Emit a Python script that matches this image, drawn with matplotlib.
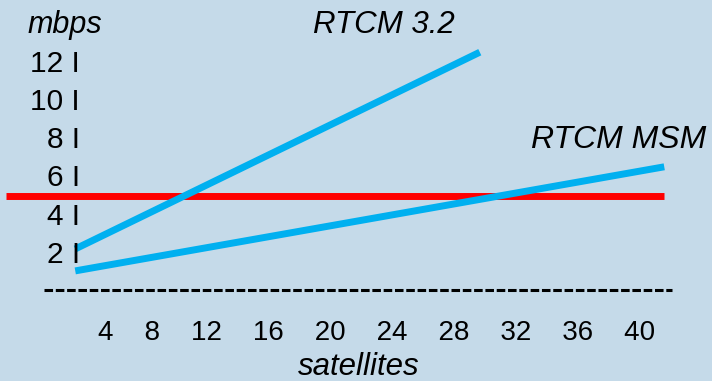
import matplotlib.pyplot as plt

# data
sat_ticks = [4, 8, 12, 16, 20, 24, 28, 32, 36, 40]
mbps_ticks = [2, 4, 6, 8, 10, 12]

rtcm32_sats = [3.5, 29.6]
rtcm32_mbps = [2.15, 12.45]
msm_sats = [3.5, 41.5]
msm_mbps = [1.0, 6.45]
limit_sats = [-1.0, 41.5]
limit_mbps = [4.92, 4.92]
base_sats = [1.5, 42.0]
base_mbps = [0, 0]

BG = '#C5DAE9'
BLUE = '#00B0F0'
RED = '#FF0000'
plt.rcParams['font.family'] = ['Liberation Sans', 'DejaVu Sans']

# scale of the slide: pixels per satellite / per mbps
PX_SAT = 15.5
PX_MBPS = 19.1

fig = plt.figure(figsize=(7.12, 3.81), dpi=100, facecolor=BG)
ax = fig.add_axes([0, 0, 1, 1])
ax.set_facecolor(BG)
ax.set_xlim(-21 / PX_SAT, (712 - 21) / PX_SAT)
ax.set_ylim((290 - 381) / PX_MBPS, 290 / PX_MBPS)
ax.axis('off')

# threshold line sits under the blue ones
ax.plot(limit_sats, limit_mbps, color=RED, lw=5, solid_capstyle='butt', zorder=2)
ax.plot(rtcm32_sats, rtcm32_mbps, color=BLUE, lw=5, solid_capstyle='butt', zorder=3)
ax.plot(msm_sats, msm_mbps, color=BLUE, lw=5, solid_capstyle='butt', zorder=3)

# dashed "axis" along zero
ax.plot(base_sats, base_mbps, color='black', lw=2.2, dashes=(2.8, 0.9),
        dash_capstyle='butt', zorder=2)

# y labels drawn as "12 I" style text
digit_half = 11 / PX_MBPS
for v in mbps_ticks:
    ax.text(59 / PX_SAT, v - digit_half, f'{v} I', fontsize=21.5, ha='right',
            va='baseline', color='black')

# x labels as one spaced line of text
ax.text(77 / PX_SAT, -50 / PX_MBPS, '    '.join(str(t) for t in sat_ticks),
        fontsize=20, ha='left', va='baseline', color='black')

ax.text(7 / PX_SAT, 257 / PX_MBPS, 'mbps', fontsize=22, style='italic',
        ha='left', va='baseline')
ax.text(363 / PX_SAT, 257 / PX_MBPS, 'RTCM 3.2', fontsize=22.5, style='italic',
        ha='center', va='baseline')
ax.text(598 / PX_SAT, 142 / PX_MBPS, 'RTCM MSM', fontsize=23, style='italic',
        ha='center', va='baseline')
ax.text(338 / PX_SAT, -85 / PX_MBPS, 'satellites', fontsize=22.5, style='italic',
        ha='center', va='baseline')

fig.savefig('out.png', dpi=100, facecolor=BG)
